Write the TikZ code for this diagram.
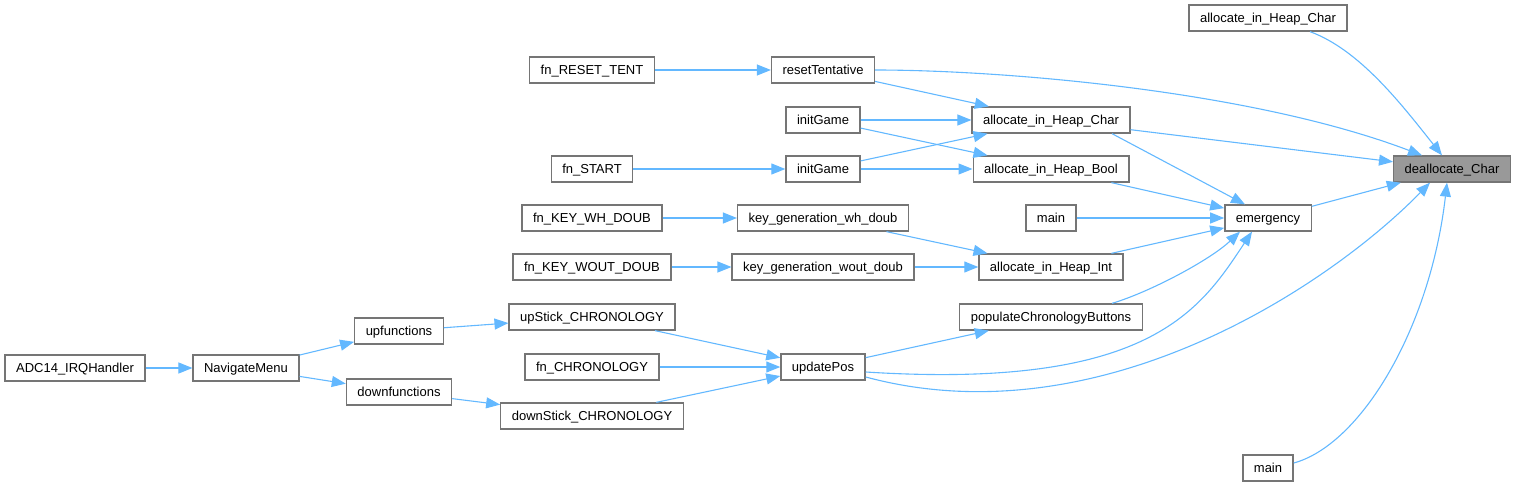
\documentclass[tikz,border=0pt]{standalone}
\usepackage{fontspec}
\setmainfont{Liberation Sans}
\usetikzlibrary{arrows.meta}
\definecolor{edgeblue}{HTML}{63B8FF}
\definecolor{boxgray}{HTML}{757575}
\definecolor{calleegray}{HTML}{999999}
\tikzset{
  fn/.style={draw=boxgray, line width=1.3pt, fill=white, minimum height=26pt,
    inner xsep=11pt, inner ysep=0pt, text height=10pt, text depth=1pt,
    font=\fontsize{13}{15}\selectfont},
  callee/.style={fn, fill=calleegray},
  call/.style={edgeblue, line width=1.1pt, -{Triangle[length=14pt,width=11pt]}}
}
\begin{document}
\begin{tikzpicture}[x=1pt,y=-1pt]
    \useasboundingbox (0,0) rectangle (1515,487);

    % Вызываемая функция
    \node[callee] (dealloc) at (1452,169) {deallocate\_Char};

    % Верхняя часть
    \node[fn] (allocTop) at (1268,18) {allocate\_in\_Heap\_Char};
    \node[fn] (fnReset) at (592,70) {fn\_RESET\_TENT};
    \node[fn] (resetTent) at (823,70) {resetTentative};
    \node[fn] (initGameA) at (823,120) {initGame};
    \node[fn] (allocChar) at (1051,120) {allocate\_in\_Heap\_Char};
    \node[fn] (fnStart) at (592,169) {fn\_START};
    \node[fn] (initGameB) at (823,169) {initGame};
    \node[fn] (allocBool) at (1051,169) {allocate\_in\_Heap\_Bool};
    \node[fn] (mainA) at (1051,218) {main};
    \node[fn] (emergency) at (1268,218) {emergency};

    % Генерация ключей
    \node[fn] (fnKeyWh) at (592,218) {fn\_KEY\_WH\_DOUB};
    \node[fn] (keyGenWh) at (823,218) {key\_generation\_wh\_doub};
    \node[fn] (fnKeyWout) at (592,267) {fn\_KEY\_WOUT\_DOUB};
    \node[fn] (keyGenWout) at (823,267) {key\_generation\_wout\_doub};
    \node[fn] (allocInt) at (1051,267) {allocate\_in\_Heap\_Int};

    % Хронология
    \node[fn] (populate) at (1051,317) {populateChronologyButtons};
    \node[fn] (upStick) at (592,317) {upStick\_CHRONOLOGY};
    \node[fn] (upFunc) at (399,331) {upfunctions};
    \node[fn] (fnChrono) at (592,367) {fn\_CHRONOLOGY};
    \node[fn] (updatePos) at (823,367) {updatePos};
    \node[fn] (adc) at (75,368) {ADC14\_IRQHandler};
    \node[fn] (navMenu) at (246,368) {NavigateMenu};
    \node[fn] (downFunc) at (399,392) {downfunctions};
    \node[fn] (downStick) at (592,416) {downStick\_CHRONOLOGY};
    \node[fn] (mainB) at (1268,468) {main};

    % Прямые вызовы
    \draw[call] (fnReset) -- (resetTent);
    \draw[call] (resetTent) -- (allocChar);
    \draw[call] (initGameA) -- (allocChar);
    \draw[call] (initGameA) -- (allocBool);
    \draw[call] (fnStart) -- (initGameB);
    \draw[call] (initGameB) -- (allocChar);
    \draw[call] (initGameB) -- (allocBool);
    \draw[call] (allocChar) -- (dealloc);
    \draw[call] ([xshift=61pt]allocChar.south) -- ([xshift=-23pt]emergency.north);
    \draw[call] (allocBool) -- (emergency);
    \draw[call] (mainA) -- (emergency);
    \draw[call] (allocInt) -- (emergency);
    \draw[call] (emergency) -- (dealloc);
    \draw[call] (fnKeyWh) -- (keyGenWh);
    \draw[call] (keyGenWh) -- (allocInt);
    \draw[call] (fnKeyWout) -- (keyGenWout);
    \draw[call] (keyGenWout) -- (allocInt);
    \draw[call] (updatePos) -- (populate);
    \draw[call] (upStick) -- (updatePos);
    \draw[call] (fnChrono) -- (updatePos);
    \draw[call] (downStick) -- (updatePos);
    \draw[call] (upFunc) -- (upStick);
    \draw[call] (downFunc) -- (downStick);
    \draw[call] (navMenu) -- (upFunc);
    \draw[call] (navMenu) -- (downFunc);
    \draw[call] (adc) -- (navMenu);

    % Изогнутые вызовы
    \draw[call] (resetTent.east) .. controls (1000,70) and (1250,90) .. ([xshift=-30pt]dealloc.north);
    \draw[call] ([xshift=42pt]allocTop.south) .. controls (1360,50) and (1402,105) .. ([xshift=-10pt]dealloc.north);
    \draw[call] ([xshift=61pt]populate.north) .. controls (1150,292) and (1210,260) .. ([xshift=-28pt]emergency.south);
    \draw[call] ([yshift=-5pt]updatePos.east) .. controls (1150,390) and (1200,310) .. ([xshift=-16pt]emergency.south);
    \draw[call] ([yshift=-10pt]updatePos.east) .. controls (1100,440) and (1330,285) .. ([xshift=-22pt]dealloc.south);
    \draw[call] ([yshift=5pt]mainB.east) .. controls (1360,445) and (1430,330) .. ([xshift=-5pt]dealloc.south);
\end{tikzpicture}
\end{document}
